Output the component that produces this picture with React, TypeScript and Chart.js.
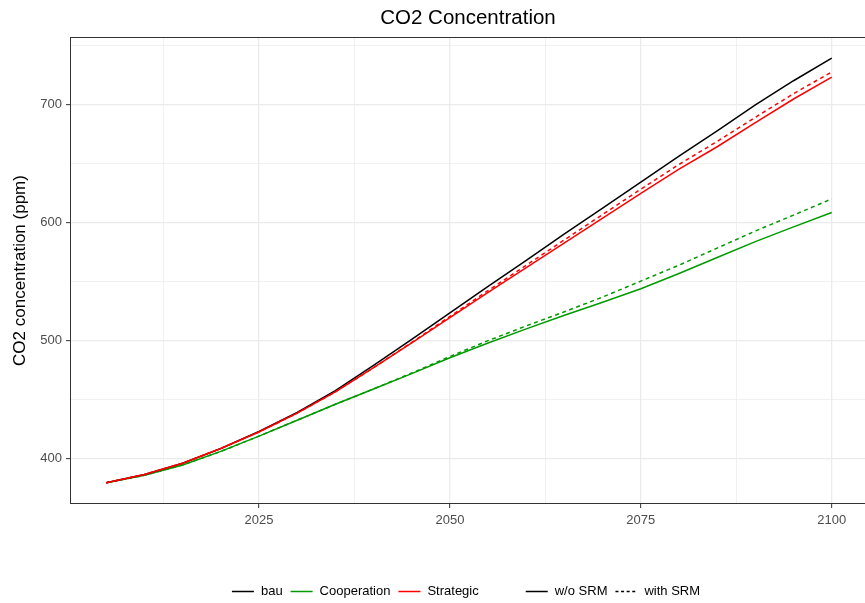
import React, { useEffect, useRef } from 'react';
import { Chart, registerables } from 'chart.js';

Chart.register(...registerables);

// ---- data ----
const years = [2005, 2010, 2015, 2020, 2025, 2030, 2035, 2040, 2045, 2050, 2055, 2060, 2065, 2070, 2075, 2080, 2085, 2090, 2095, 2100];
const bau = [379.4, 386.5, 396, 408.5, 423, 439, 457.5, 479, 501, 523.5, 546, 568, 590.5, 612.5, 634.5, 656.5, 678, 700, 720.5, 739.6];
const strategicNoSrm = [379.4, 386.5, 396, 408.5, 422.5, 438.5, 456.5, 477, 498, 519.5, 541, 562, 583, 604, 625, 645.5, 664.5, 685, 705, 723.5];
const strategicSrm = [379.4, 386.5, 396, 408.5, 422.5, 438.5, 456.5, 477, 498.5, 520.5, 542.5, 564, 585.5, 607, 628.5, 649.5, 669, 689.5, 709.5, 728];
const cooperationNoSrm = [379.4, 385.8, 394.5, 406, 419, 432.5, 446, 459, 472, 485.5, 498, 510, 521.5, 532.5, 544, 557, 570.5, 584, 596.5, 608.7];
const cooperationSrm = [379.4, 385.8, 394.5, 406, 419, 432.5, 446, 459, 472.5, 486.5, 500, 512.5, 524.5, 537, 550.5, 564, 578.5, 593, 606.5, 620.3];

const xMajorTicks = [2025, 2050, 2075, 2100];
const xMinorTicks = [2012.5, 2037.5, 2062.5, 2087.5];
const yMajorTicks = [400, 500, 600, 700];
const yMinorTicks = [450, 550, 650, 750];

const titleText = 'CO2 Concentration';
const yAxisTitle = 'CO2 concentration (ppm)';

const scenarioLegend = [
  { label: 'bau', color: '#000000' },
  { label: 'Cooperation', color: '#009A00' },
  { label: 'Strategic', color: '#FF0000' },
];
const srmLegend = [
  { label: 'w/o SRM', dashed: false },
  { label: 'with SRM', dashed: true },
];

// ---- styles ----
const FONT = '"Liberation Sans", Arial, Helvetica, sans-serif';
const GREEN = '#009A00';
const RED = '#FF0000';
const BLACK = '#000000';
const DASH = [4, 3.5];
const LINE_W = 1.5;

function expand(vals: number[]) {
  const lo = Math.min(...vals);
  const hi = Math.max(...vals);
  const pad = (hi - lo) * 0.05;
  return [lo - pad, hi + pad];
}

const toPts = (vals: number[]) => years.map((yr, i) => ({ x: yr, y: vals[i] }));

const decorPlugin = {
  id: 'decor',
  afterDatasetsDraw(chart: any) {
    const { ctx, chartArea: a } = chart;
    ctx.save();
    ctx.strokeStyle = '#333333';
    ctx.lineWidth = 1;
    ctx.strokeRect(a.left + 0.5, a.top + 0.5, a.right - a.left - 1, a.bottom - a.top - 1);
    ctx.restore();
  },
  afterDraw(chart: any) {
    const { ctx, chartArea: a } = chart;
    const cx = (a.left + a.right) / 2;
    ctx.save();
    // title
    ctx.fillStyle = '#000000';
    ctx.font = `20.5px ${FONT}`;
    ctx.textAlign = 'center';
    ctx.textBaseline = 'middle';
    ctx.fillText(titleText, cx - 1, 18.5);

    // legend
    ctx.font = `13px ${FONT}`;
    const keyW = 22, keyGap = 7, itemGap = 8, groupGap = 47;
    const widthOf = (t: string) => keyW + keyGap + ctx.measureText(t).width;
    const g1 = scenarioLegend.map((it) => widthOf(it.label));
    const g2 = srmLegend.map((it) => widthOf(it.label));
    const sum = (arr: number[]) => arr.reduce((s, v) => s + v, 0);
    const total = sum(g1) + itemGap * (g1.length - 1) + groupGap + sum(g2) + itemGap * (g2.length - 1);
    let x = cx - 3 - total / 2;
    const y = chart.height - 11.5;
    ctx.textAlign = 'left';
    ctx.textBaseline = 'middle';
    ctx.lineWidth = LINE_W;
    const drawItem = (label: string, color: string, dashed: boolean, w: number) => {
      ctx.beginPath();
      ctx.setLineDash(dashed ? [3, 2.6] : []);
      ctx.strokeStyle = color;
      ctx.moveTo(x, y);
      ctx.lineTo(x + keyW, y);
      ctx.stroke();
      ctx.setLineDash([]);
      ctx.fillStyle = '#000000';
      ctx.fillText(label, x + keyW + keyGap, y);
      x += w;
    };
    scenarioLegend.forEach((it, i) => {
      drawItem(it.label, it.color, false, g1[i]);
      x += i < scenarioLegend.length - 1 ? itemGap : groupGap;
    });
    srmLegend.forEach((it, i) => {
      drawItem(it.label, BLACK, it.dashed, g2[i]);
      x += itemGap;
    });
    ctx.restore();
  },
};

export default function App() {
  const ref = useRef<HTMLCanvasElement | null>(null);

  useEffect(() => {
    if (!ref.current) return;
    const allVals = [...bau, ...strategicNoSrm, ...strategicSrm, ...cooperationNoSrm, ...cooperationSrm];
    const [yMin, yMax] = expand(allVals);
    const [xMin, xMax] = expand(years);
    const isMajorX = (v: number) => xMajorTicks.includes(v);
    const isMajorY = (v: number) => yMajorTicks.includes(v);

    const ds = (vals: number[], color: string, dashed: boolean) => ({
      data: toPts(vals),
      borderColor: color,
      backgroundColor: color,
      borderWidth: LINE_W,
      borderDash: dashed ? DASH : [],
      pointRadius: 0,
      tension: 0,
      fill: false,
    });

    const chart = new Chart(ref.current, {
      type: 'line',
      data: {
        datasets: [
          ds(strategicNoSrm, RED, false),
          ds(strategicSrm, RED, true),
          ds(bau, BLACK, false),
          ds(cooperationNoSrm, GREEN, false),
          ds(cooperationSrm, GREEN, true),
        ],
      },
      options: {
        animation: false,
        responsive: false,
        devicePixelRatio: 1,
        layout: { padding: { top: 37, left: 0, right: 0, bottom: 59 } },
        plugins: {
          legend: { display: false },
          title: { display: false },
          tooltip: { enabled: false },
        },
        scales: {
          x: {
            type: 'linear',
            min: xMin,
            max: xMax,
            afterBuildTicks: (scale: any) => {
              scale.ticks = [...xMinorTicks, ...xMajorTicks].sort((a, b) => a - b).map((v) => ({ value: v }));
            },
            afterFit: (scale: any) => {
              scale.height = 40;
            },
            ticks: {
              autoSkip: false,
              maxRotation: 0,
              padding: 5,
              color: '#4d4d4d',
              font: { family: FONT, size: 13 },
              callback: (v: any) => (isMajorX(Number(v)) ? String(v) : ''),
            },
            grid: {
              color: '#ebebeb',
              lineWidth: (c: any) => (c.tick && isMajorX(c.tick.value) ? 1.3 : 0.7),
              tickColor: (c: any) => (c.tick && isMajorX(c.tick.value) ? '#333333' : 'rgba(0,0,0,0)'),
              tickLength: 4,
              tickWidth: 1,
            },
            border: { display: false },
          },
          y: {
            type: 'linear',
            min: yMin,
            max: yMax,
            afterBuildTicks: (scale: any) => {
              scale.ticks = [...yMinorTicks, ...yMajorTicks].sort((a, b) => a - b).map((v) => ({ value: v }));
            },
            afterFit: (scale: any) => {
              scale.width = 70;
            },
            ticks: {
              autoSkip: false,
              padding: 4,
              color: '#4d4d4d',
              font: { family: FONT, size: 13 },
              callback: (v: any) => (isMajorY(Number(v)) ? String(v) : ''),
            },
            grid: {
              color: '#ebebeb',
              lineWidth: (c: any) => (c.tick && isMajorY(c.tick.value) ? 1.3 : 0.7),
              tickColor: (c: any) => (c.tick && isMajorY(c.tick.value) ? '#333333' : 'rgba(0,0,0,0)'),
              tickLength: 4,
              tickWidth: 1,
            },
            border: { display: false },
            title: {
              display: true,
              text: yAxisTitle,
              color: '#000000',
              font: { family: FONT, size: 17 },
              padding: { top: 10, bottom: 0 },
            },
          },
        },
      },
      plugins: [decorPlugin],
    } as any);

    return () => chart.destroy();
  }, []);

  return (
    <div style={{ position: 'fixed', left: 0, top: 0, width: 865, height: 603, overflow: 'hidden', background: '#ffffff' }}>
      <canvas ref={ref} width={868} height={603} style={{ width: 868, height: 603, display: 'block' }} />
    </div>
  );
}
